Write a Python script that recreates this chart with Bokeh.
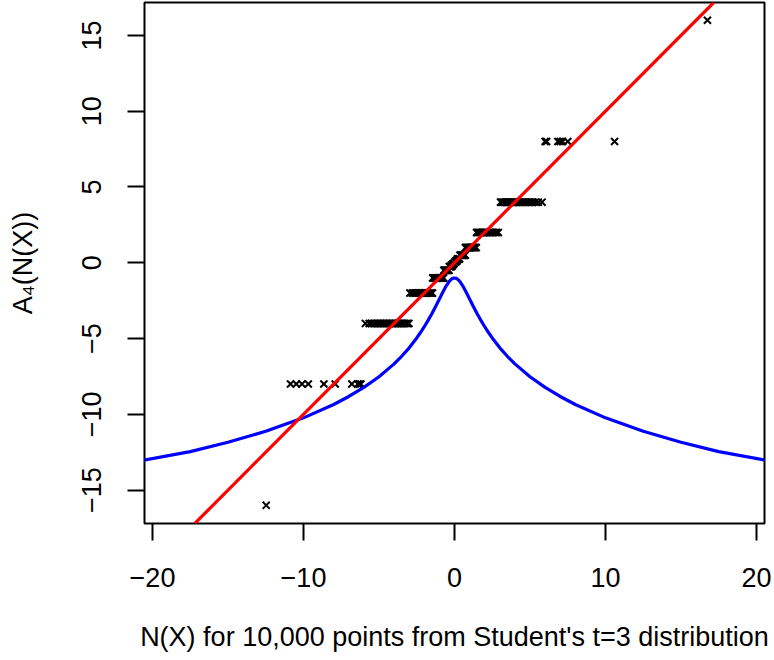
from bokeh.plotting import figure
from bokeh.models import Slope, FixedTicker, Range1d, ColumnDataSource
from bokeh.embed import file_html
from bokeh.resources import INLINE

# ---------------- data ----------------
x_ticks = [-20, -10, 0, 10, 20]
x_tick_labels = ["\u221220", "\u221210", "0", "10", "20"]
y_ticks = [-15, -10, -5, 0, 5, 10, 15]
y_tick_labels = ["\u221215", "\u221210", "\u22125", "0", "5", "10", "15"]

# scatter: x positions of points at each quantised level A4(N(X))
x_at_p16 = [16.75]
x_at_p8 = [6.0, 6.1, 6.85, 7.0, 7.15, 7.5, 10.6]
x_at_p4 = [3.05, 3.12, 3.2, 3.28, 3.36, 3.44, 3.52, 3.6, 3.68, 3.76, 3.84, 3.92,
           4.0, 4.1, 4.2, 4.3, 4.4, 4.5, 4.6, 4.7, 4.8, 4.9, 5.0, 5.1, 5.2,
           5.35, 5.55, 5.8]
x_at_p2 = [1.46, 1.52, 1.6, 1.68, 1.76, 1.84, 1.92, 2.0, 2.1, 2.2, 2.3, 2.4,
           2.5, 2.6, 2.7, 2.8, 2.9]
x_at_p1 = [0.72, 0.78, 0.84, 0.9, 0.96, 1.02, 1.08, 1.14, 1.2, 1.26, 1.32,
           1.38, 1.44]
x_at_p05 = [0.36, 0.41, 0.46, 0.51, 0.56, 0.61, 0.66, 0.71]
x_at_p025 = [0.18, 0.22, 0.26, 0.3, 0.34]
x_at_p0125 = [0.09, 0.12, 0.15, 0.175]
x_at_p00625 = [0.045, 0.06, 0.075, 0.088]
x_at_m00625 = [-0.045, -0.06, -0.075, -0.088]
x_at_m0125 = [-0.09, -0.12, -0.15, -0.175]
x_at_m025 = [-0.18, -0.22, -0.26, -0.3, -0.34]
x_at_m05 = [-0.36, -0.41, -0.46, -0.51, -0.56, -0.61, -0.66, -0.71]
x_at_m1 = [-0.72, -0.78, -0.84, -0.9, -0.96, -1.02, -1.08, -1.14, -1.2, -1.26,
           -1.32, -1.38, -1.45]
x_at_m2 = [-1.46, -1.52, -1.6, -1.68, -1.76, -1.84, -1.92, -2.0, -2.1, -2.2,
           -2.3, -2.4, -2.5, -2.6, -2.7, -2.8, -2.95]
x_at_m4 = [-5.9, -5.65, -5.5, -5.4, -5.3, -5.2, -5.1, -5.0, -4.9, -4.8, -4.7,
           -4.6, -4.5, -4.4, -4.3, -4.2, -4.1, -4.0, -3.9, -3.8, -3.7, -3.6,
           -3.5, -3.4, -3.3, -3.2, -3.1, -3.02]
x_at_m8 = [-10.86, -10.48, -10.1, -9.68, -8.65, -7.9, -6.8, -6.4, -6.3, -6.2]
x_at_m16 = [-12.47]

level_values = [16, 8, 4, 2, 1, 0.5, 0.25, 0.125, 0.0625,
                -0.0625, -0.125, -0.25, -0.5, -1, -2, -4, -8, -16]
level_x_lists = [x_at_p16, x_at_p8, x_at_p4, x_at_p2, x_at_p1, x_at_p05,
                 x_at_p025, x_at_p0125, x_at_p00625, x_at_m00625, x_at_m0125,
                 x_at_m025, x_at_m05, x_at_m1, x_at_m2, x_at_m4, x_at_m8,
                 x_at_m16]

# blue curve
blue_x = [-21, -17.5, -15, -12.5, -10, -8, -7, -6, -5, -4, -3.5, -3, -2.5,
          -2.25, -2, -1.75, -1.5, -1.25, -1, -0.875, -0.75, -0.625, -0.5,
          -0.375, -0.25, -0.125, 0, 0.125, 0.25, 0.375, 0.5, 0.625, 0.75,
          0.875, 1, 1.25, 1.5, 1.75, 2, 2.25, 2.5, 3, 3.5, 4, 5, 6, 7, 8, 10,
          12.5, 15, 17.5, 21]
blue_y = [-13.1, -12.46, -11.84, -11.12, -10.23, -9.35, -8.82, -8.22, -7.52,
          -6.67, -6.17, -5.61, -4.96, -4.6, -4.22, -3.8, -3.36, -2.88, -2.39,
          -2.14, -1.89, -1.66, -1.45, -1.26, -1.12, -1.03, -1.0, -1.03, -1.12,
          -1.26, -1.45, -1.66, -1.89, -2.14, -2.39, -2.88, -3.36, -3.8, -4.22,
          -4.6, -4.96, -5.61, -6.17, -6.67, -7.52, -8.22, -8.82, -9.35,
          -10.23, -11.12, -11.84, -12.46, -13.1]

# red reference line y = x
red_gradient = 1
red_intercept = 0

x_title = "N(X) for 10,000 points from Student's t=3 distribution"
y_title = "A\u2084(N(X))"

# ---------------- build table ----------------
pts_x, pts_y = [], []
for lev, xs in zip(level_values, level_x_lists):
    for xv in xs:
        pts_x.append(xv)
        pts_y.append(lev)
pts = ColumnDataSource(dict(x=pts_x, y=pts_y))
blue = ColumnDataSource(dict(x=blue_x, y=blue_y))

FONT = "Liberation Sans"

p = figure(width=774, height=656, output_backend="svg", toolbar_location=None,
           x_range=Range1d(-20.53, 20.53), y_range=Range1d(-17.2, 17.17),
           min_border_left=144, min_border_right=10, min_border_top=2,
           min_border_bottom=133)
p.background_fill_color = "white"
p.border_fill_color = "white"
p.outline_line_color = "black"
p.outline_line_width = 2
p.grid.visible = False

p.scatter("x", "y", source=pts, marker="x", size=10, line_color="black",
          line_width=2)
p.line("x", "y", source=blue, line_color="#0000FF", line_width=3.2)
p.add_layout(Slope(gradient=red_gradient, y_intercept=red_intercept,
                   line_color="#FF0000", line_width=3.2))

for ax, ticks, labels in ((p.xaxis[0], x_ticks, x_tick_labels),
                          (p.yaxis[0], y_ticks, y_tick_labels)):
    ax.ticker = FixedTicker(ticks=ticks)
    ax.major_label_overrides = {t: l for t, l in zip(ticks, labels)}
    ax.axis_line_color = None
    ax.major_tick_out = 17
    ax.major_tick_in = 0
    ax.major_tick_line_width = 2
    ax.major_tick_line_color = "black"
    ax.minor_tick_line_color = None
    ax.major_label_text_font = FONT
    ax.major_label_text_font_size = "27px"
    ax.major_label_text_color = "black"
    ax.axis_label_text_font = FONT
    ax.axis_label_text_font_size = "27px"
    ax.axis_label_text_font_style = "normal"
    ax.axis_label_text_color = "black"

p.xaxis.axis_label = x_title
p.xaxis.major_label_standoff = 27
p.xaxis.axis_label_standoff = 32
p.yaxis.axis_label = y_title
p.yaxis.major_label_orientation = "vertical"
p.yaxis.major_label_standoff = 26
p.yaxis.axis_label_standoff = 42

open("out.html", "w").write(file_html(p, INLINE))
